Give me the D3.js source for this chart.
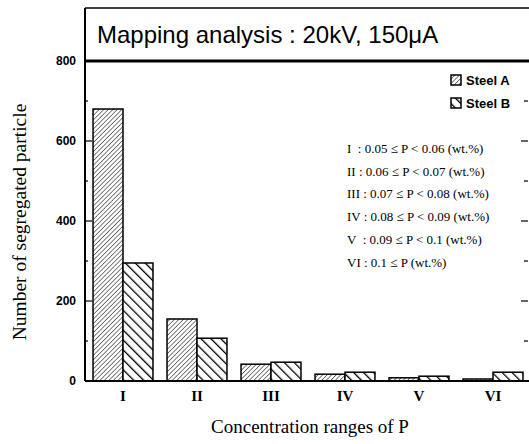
<!DOCTYPE html>
<html><head><meta charset="utf-8">
<script src="https://cdn.jsdelivr.net/npm/d3@7"></script>
<style>body{margin:0;background:#fff}svg{display:block}</style>
</head><body>
<script>
const categories = ["I","II","III","IV","V","VI"];
const steelA = [680,155,42,17,8,5];
const steelB = [295,107,47,22,12,22];
const seriesNames = ["Steel A","Steel B"];
const yTicks = [0,200,400,600,800];
const notes = [
  "I  : 0.05 \u2264 P < 0.06 (wt.%)",
  "II : 0.06 \u2264 P < 0.07 (wt.%)",
  "III : 0.07 \u2264 P < 0.08 (wt.%)",
  "IV : 0.08 \u2264 P < 0.09 (wt.%)",
  "V  : 0.09 \u2264 P < 0.1 (wt.%)",
  "VI : 0.1 \u2264 P (wt.%)"
];
const title = "Mapping analysis : 20kV, 150\u03bcA";

const W=529,H=444;
const svg=d3.select("body").append("svg").attr("width",W).attr("height",H);
const defs=svg.append("defs");
const pA=defs.append("pattern").attr("id","hA").attr("patternUnits","userSpaceOnUse")
  .attr("width",3.2).attr("height",3.2).attr("patternTransform","rotate(45)");
pA.append("rect").attr("width",3.2).attr("height",3.2).attr("fill","#fff");
pA.append("line").attr("x1",0).attr("y1",0).attr("x2",0).attr("y2",3.2).attr("stroke","#000").attr("stroke-width",1);
const pB=defs.append("pattern").attr("id","hB").attr("patternUnits","userSpaceOnUse")
  .attr("width",7).attr("height",7).attr("patternTransform","rotate(-45)");
pB.append("rect").attr("width",7).attr("height",7).attr("fill","#fff");
pB.append("line").attr("x1",0).attr("y1",0).attr("x2",0).attr("y2",7).attr("stroke","#000").attr("stroke-width",2.6);

const x=d3.scaleBand().domain(categories).range([86,530]).paddingInner(0.19).paddingOuter(0.095);
const xs=d3.scaleBand().domain(seriesNames).range([0,x.bandwidth()]);
const y=d3.scaleLinear().domain([0,800]).range([381,61]);

// frame
svg.append("line").attr("x1",85).attr("x2",529).attr("y1",8).attr("y2",8).attr("stroke","#000").attr("stroke-width",1.5);
svg.append("line").attr("x1",85).attr("x2",85).attr("y1",8).attr("y2",381).attr("stroke","#000").attr("stroke-width",2);
svg.append("line").attr("x1",85).attr("x2",529).attr("y1",y(800)).attr("y2",y(800)).attr("stroke","#000").attr("stroke-width",3);
svg.append("text").attr("x",97).attr("y",43).attr("font-family","Liberation Sans, Arial, sans-serif")
  .attr("font-size",24).attr("fill","#000").text(title);

// bars
const data=categories.map((c,i)=>({c,vals:[{s:"Steel A",v:steelA[i]},{s:"Steel B",v:steelB[i]}]}));
const g=svg.append("g");
data.forEach(d=>{
  d.vals.forEach(b=>{
    g.append("rect").attr("x",x(d.c)+xs(b.s)).attr("y",y(b.v)).attr("width",xs.bandwidth()).attr("height",y(0)-y(b.v))
      .attr("fill",b.s==="Steel A"?"url(#hA)":"url(#hB)").attr("stroke","#000").attr("stroke-width",1.5);
  });
});

// baseline
svg.append("line").attr("x1",85).attr("x2",529).attr("y1",y(0)).attr("y2",y(0)).attr("stroke","#000").attr("stroke-width",2);

// y axis
const ya=svg.append("g").attr("transform","translate(85,0)")
  .call(d3.axisLeft(y).tickValues(yTicks).tickSize(0).tickPadding(9).tickFormat(d3.format("d")));
ya.select(".domain").remove();
ya.selectAll("text").attr("font-family","Liberation Sans, Arial, sans-serif").attr("font-size",12).attr("font-weight","bold").attr("fill","#000");
const minor=d3.range(100,800,100);
svg.append("g").selectAll("line").data(minor).join("line")
  .attr("x1",85).attr("x2",d=>d%200===0?92:88).attr("y1",d=>y(d)).attr("y2",d=>y(d)).attr("stroke","#000").attr("stroke-width",1.2);
svg.append("g").selectAll("line").data(minor).join("line")
  .attr("x1",d=>d%200===0?521:524).attr("x2",528).attr("y1",d=>y(d)).attr("y2",d=>y(d)).attr("stroke","#000").attr("stroke-width",1.2);

// x labels
const xa=svg.append("g").attr("transform","translate(0,"+y(0)+")").call(d3.axisBottom(x).tickSize(0).tickPadding(9));
xa.select(".domain").remove();
xa.selectAll("text").attr("font-family","Liberation Serif, Times New Roman, serif").attr("font-size",15).attr("font-weight","bold").attr("fill","#000");

svg.append("text").attr("x",310).attr("y",433).attr("text-anchor","middle")
  .attr("font-family","Liberation Serif, Times New Roman, serif").attr("font-size",19).text("Concentration ranges of P");
svg.append("text").attr("transform","translate(26,222) rotate(-90)").attr("text-anchor","middle")
  .attr("font-family","Liberation Serif, Times New Roman, serif").attr("font-size",19.5).text("Number of segregated particle");

// legend
seriesNames.forEach((s,i)=>{
  const ly=75+i*23;
  svg.append("rect").attr("x",451).attr("y",ly).attr("width",10).attr("height",10)
    .attr("fill",i===0?"url(#hA)":"url(#hB)").attr("stroke","#000").attr("stroke-width",1.5);
  svg.append("text").attr("x",466).attr("y",ly+10).attr("font-family","Liberation Sans, Arial, sans-serif")
    .attr("font-size",13).attr("font-weight","bold").text(s);
});

// notes
notes.forEach((t,i)=>{
  svg.append("text").attr("x",347).attr("y",153+i*22.7).attr("font-family","Liberation Serif, Times New Roman, serif")
    .attr("font-size",13).attr("xml:space","preserve").style("white-space","pre").text(t);
});
</script>
</body></html>
